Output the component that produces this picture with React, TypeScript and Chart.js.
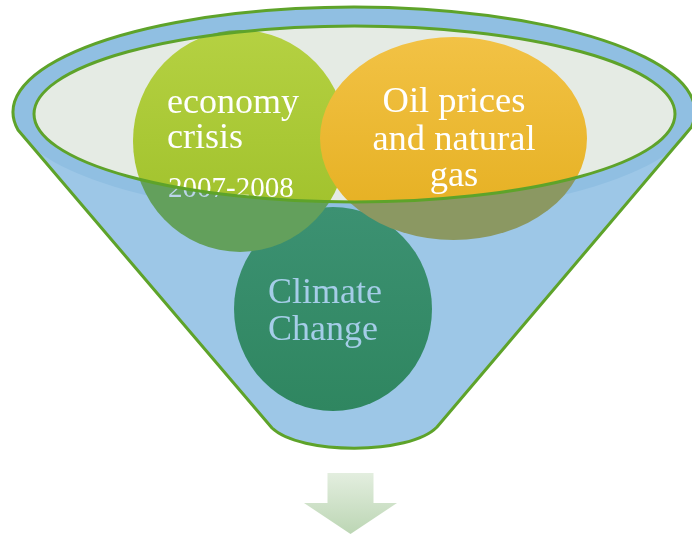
import React, { useEffect, useRef } from "react";
import { Chart, registerables } from "chart.js";

Chart.register(...registerables);

// ---- text content ----
const economyLines = ["economy", "crisis"];
const economyYears = ["2007-2008"];
const oilLines = ["Oil prices", "and natural", "gas"];
const climateLines = ["Climate", "Change"];

const W = 692;
const H = 536;
const SERIF = '"Liberation Serif", "Times New Roman", Times, serif';

// ---- geometry of the diagram (in scale units) ----
type Ell = { cx: number; cy: number; rx: number; ry: number };
const layout = {
  outer: { cx: 354, cy: 112, rx: 341, ry: 105 } as Ell,
  inner: { cx: 354.5, cy: 114, rx: 320.5, ry: 88 } as Ell,
  green: { cx: 240, cy: 141, rx: 107, ry: 111 } as Ell,
  orange: { cx: 453.5, cy: 138.5, rx: 133.5, ry: 101.5 } as Ell,
  teal: { cx: 333, cy: 309, rx: 99, ry: 102 } as Ell,
  coneRight: [437, 427],
  coneLeft: [272, 428],
  coneBottomCtrl: [[410, 455], [300, 455]],
  arrow: { cx: 350.5, shaftHalf: 23, headHalf: 46.5, top: 473, neck: 503, tip: 534 },
};

const diagramPlugin = {
  id: "funnelDiagram",
  beforeDatasetsDraw(chart: any) {
    const { ctx } = chart;
    const xs = chart.scales.x;
    const ys = chart.scales.y;
    const px = (v: number) => xs.getPixelForValue(v);
    const py = (v: number) => ys.getPixelForValue(v);
    const sx = (v: number) => Math.abs(xs.getPixelForValue(v) - xs.getPixelForValue(0));
    const sy = (v: number) => Math.abs(ys.getPixelForValue(v) - ys.getPixelForValue(0));
    const ellPath = (e: Ell) => {
      ctx.beginPath();
      ctx.ellipse(px(e.cx), py(e.cy), sx(e.rx), sy(e.ry), 0, 0, Math.PI * 2);
    };
    const { outer, inner, green, orange, teal } = layout;

    // angles where the cone sides attach to the outer ellipse
    const tL = Math.PI - 0.172;
    const tR = 2 * Math.PI + 0.143;

    const conePath = () => {
      ctx.beginPath();
      ctx.ellipse(px(outer.cx), py(outer.cy), sx(outer.rx), sy(outer.ry), 0, tL, tR, false);
      ctx.lineTo(px(layout.coneRight[0]), py(layout.coneRight[1]));
      ctx.bezierCurveTo(
        px(layout.coneBottomCtrl[0][0]), py(layout.coneBottomCtrl[0][1]),
        px(layout.coneBottomCtrl[1][0]), py(layout.coneBottomCtrl[1][1]),
        px(layout.coneLeft[0]), py(layout.coneLeft[1])
      );
      ctx.closePath();
    };

    ctx.save();
    // cone body
    conePath();
    ctx.fillStyle = "#9dc7e7";
    ctx.fill();
    // rim (outer ellipse)
    ellPath(outer);
    ctx.fillStyle = "#90bfe2";
    ctx.fill();
    // opening
    ellPath(inner);
    ctx.fillStyle = "#e5ebe4";
    ctx.fill();

    // teal circle
    ellPath(teal);
    let g = ctx.createLinearGradient(0, py(teal.cy - teal.ry), 0, py(teal.cy + teal.ry));
    g.addColorStop(0, "#3c9172");
    g.addColorStop(1, "#2f8660");
    ctx.fillStyle = g;
    ctx.fill();

    const clipInside = () => {
      ellPath(inner);
      ctx.clip();
    };
    const clipOutside = () => {
      ctx.beginPath();
      ctx.rect(0, 0, chart.width, chart.height);
      ctx.ellipse(px(inner.cx), py(inner.cy), sx(inner.rx), sy(inner.ry), 0, 0, Math.PI * 2);
      ctx.clip("evenodd");
    };

    const drawBall = (e: Ell, top: string, bottom: string, muted: string) => {
      ctx.save();
      clipInside();
      ellPath(e);
      const gr = ctx.createLinearGradient(0, py(e.cy - e.ry), 0, py(e.cy + e.ry));
      gr.addColorStop(0, top);
      gr.addColorStop(1, bottom);
      ctx.fillStyle = gr;
      ctx.fill();
      ctx.restore();
      ctx.save();
      clipOutside();
      ellPath(e);
      ctx.fillStyle = muted;
      ctx.fill();
      ctx.restore();
    };
    drawBall(green, "#b5d142", "#9dbf28", "#63a05c");
    drawBall(orange, "#f2c245", "#e4ae1e", "#8b9862");

    // texts in the two upper balls
    const drawTexts = (color: string) => {
      ctx.fillStyle = color;
      ctx.textBaseline = "alphabetic";
      ctx.textAlign = "left";
      ctx.font = `36px ${SERIF}`;
      const eBase = [113, 148];
      economyLines.forEach((s, i) => ctx.fillText(s, px(167), py(eBase[i])));
      ctx.font = `29px ${SERIF}`;
      economyYears.forEach((s) => ctx.fillText(s, px(168), py(197)));
      ctx.textAlign = "center";
      ctx.font = `36.5px ${SERIF}`;
      const oBase = [112, 150, 186];
      oilLines.forEach((s, i) => ctx.fillText(s, px(454), py(oBase[i])));
    };
    ctx.save();
    clipInside();
    drawTexts("#ffffff");
    ctx.restore();
    ctx.save();
    clipOutside();
    drawTexts("#bcd5ea");
    ctx.restore();

    // outlines
    ctx.lineWidth = 3;
    ctx.strokeStyle = "#5ea32a";
    ctx.lineJoin = "round";
    ellPath(inner);
    ctx.stroke();
    conePath();
    ctx.stroke();

    // climate change text
    ctx.fillStyle = "#a5cde8";
    ctx.textAlign = "left";
    ctx.font = `36px ${SERIF}`;
    const cBase = [303, 340];
    climateLines.forEach((s, i) => ctx.fillText(s, px(268), py(cBase[i])));

    // arrow
    const a = layout.arrow;
    ctx.beginPath();
    ctx.moveTo(px(a.cx - a.shaftHalf), py(a.top));
    ctx.lineTo(px(a.cx + a.shaftHalf), py(a.top));
    ctx.lineTo(px(a.cx + a.shaftHalf), py(a.neck));
    ctx.lineTo(px(a.cx + a.headHalf), py(a.neck));
    ctx.lineTo(px(a.cx), py(a.tip));
    ctx.lineTo(px(a.cx - a.headHalf), py(a.neck));
    ctx.lineTo(px(a.cx - a.shaftHalf), py(a.neck));
    ctx.closePath();
    g = ctx.createLinearGradient(0, py(a.top), 0, py(a.tip));
    g.addColorStop(0, "#e3eedf");
    g.addColorStop(1, "#bcd6b4");
    ctx.fillStyle = g;
    ctx.fill();

    ctx.restore();
  },
};

export default function App() {
  const ref = useRef<HTMLCanvasElement | null>(null);
  useEffect(() => {
    if (!ref.current) return;
    const chart = new Chart(ref.current, {
      type: "scatter",
      data: { datasets: [{ data: [] }] },
      options: {
        responsive: false,
        animation: false,
        events: [],
        layout: { padding: 0 },
        plugins: { legend: { display: false }, tooltip: { enabled: false } },
        scales: {
          x: { type: "linear", min: 0, max: W, display: false },
          y: { type: "linear", min: 0, max: H, reverse: true, display: false },
        },
      },
      plugins: [diagramPlugin],
    });
    return () => chart.destroy();
  }, []);
  return (
    <div style={{ position: "fixed", left: 0, top: 0, width: W, height: H, background: "#ffffff" }}>
      <canvas ref={ref} width={W} height={H} style={{ display: "block", width: W, height: H }} />
    </div>
  );
}
